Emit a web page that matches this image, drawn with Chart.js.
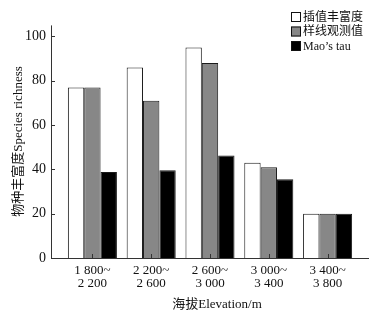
<!DOCTYPE html>
<html>
<head>
<meta charset="utf-8">
<script src="https://cdn.jsdelivr.net/npm/chart.js@4"></script>
<style>
  html, body { margin: 0; padding: 0; background: #fff; }
  #wrap { width: 378px; height: 318px; }
</style>
</head>
<body>
<div id="wrap"><canvas id="richnessChart"></canvas></div>
<script>
// faixas de altitude (m)
const elevationLabels = [
  ['1 800~', '2 200'],
  ['2 200~', '2 600'],
  ['2 600~', '3 000'],
  ['3 000~', '3 400'],
  ['3 400~', '3 800']
];
// valores
const interpolated = [77, 86, 95, 43, 20];
const observed = [77, 71, 88, 41, 20];
const maosTau = [38.8, 39.6, 46.3, 35.6, 20];

const seriesNames = ['插值丰富度', '样线观测值', 'Mao\u2019s tau'];
const seriesColors = ['#ffffff', '#878787', '#000000'];
const yTicks = [0, 20, 40, 60, 80, 100];

const FONT = '"Liberation Serif", "Noto Sans CJK SC", serif';

// eixos, marcas, legenda e títulos desenhados à mão
const paperPlugin = {
  id: 'paper',
  afterDraw(chart) {
    const ctx = chart.ctx;
    const area = chart.chartArea;
    const x = chart.scales.x;
    const y = chart.scales.y;
    const left = area.left - 12;
    const right = area.right + 12;
    const y0 = y.getPixelForValue(0);
    const yTop = y.getPixelForValue(y.max);

    ctx.save();
    ctx.strokeStyle = '#333';
    ctx.lineWidth = 1;
    ctx.beginPath();
    ctx.moveTo(left + 0.5, yTop);
    ctx.lineTo(left + 0.5, y0 + 0.5);
    ctx.lineTo(right, y0 + 0.5);
    // marcas do eixo y (para dentro)
    yTicks.forEach(v => {
      const py = Math.round(y.getPixelForValue(v)) + 0.5;
      ctx.moveTo(left, py);
      ctx.lineTo(left + 4, py);
    });
    // marcas do eixo x (para cima)
    elevationLabels.forEach((_, i) => {
      const px = Math.round(x.getPixelForValue(i)) + 0.5;
      ctx.moveTo(px, y0);
      ctx.lineTo(px, y0 - 4);
    });
    ctx.stroke();

    // legenda
    ctx.font = '12px ' + FONT;
    ctx.textBaseline = 'middle';
    ctx.textAlign = 'left';
    const rows = [17, 31.5, 46];
    seriesNames.forEach((name, i) => {
      const cy = rows[i];
      ctx.fillStyle = seriesColors[i];
      ctx.fillRect(291, cy - 5, 10, 10);
      ctx.strokeStyle = '#111';
      ctx.strokeRect(291.5, cy - 4.5, 9, 9);
      ctx.fillStyle = '#111';
      ctx.fillText(name, 303, cy + 0.5);
    });

    // títulos dos eixos
    ctx.font = '13px ' + FONT;
    ctx.textAlign = 'center';
    ctx.fillText('海拔Elevation/m', 217, 305);
    ctx.translate(18.5, 141.5);
    ctx.rotate(-Math.PI / 2);
    ctx.fillText('物种丰富度Species richness', 0, 0);
    ctx.restore();
  }
};

const datasets = [interpolated, observed, maosTau].map((values, i) => ({
  label: seriesNames[i],
  data: values,
  backgroundColor: seriesColors[i],
  borderColor: '#1a1a1a',
  borderWidth: 1,
  borderSkipped: 'bottom',
  categoryPercentage: 0.834,
  barPercentage: 1
}));

new Chart(document.getElementById('richnessChart'), {
  type: 'bar',
  data: { labels: elevationLabels, datasets: datasets },
  options: {
    responsive: true,
    maintainAspectRatio: false,
    animation: false,
    layout: { padding: { top: 12, right: 21, left: 0, bottom: 0 } },
    plugins: {
      legend: { display: false },
      tooltip: { enabled: false }
    },
    scales: {
      x: {
        offset: true,
        grid: { display: false, drawTicks: false },
        border: { display: false },
        ticks: {
          padding: 6,
          color: '#111',
          font: { family: FONT, size: 13, lineHeight: 1 },
          maxRotation: 0
        },
        afterFit: scale => { scale.height = 60; }
      },
      y: {
        min: 0,
        max: 105,
        grid: { display: false, drawTicks: false },
        border: { display: false },
        ticks: {
          stepSize: 20,
          includeBounds: false,
          padding: 17,
          color: '#111',
          font: { family: FONT, size: 14 }
        },
        afterFit: scale => { scale.width = 63; }
      }
    }
  },
  plugins: [paperPlugin]
});
</script>
</body>
</html>
